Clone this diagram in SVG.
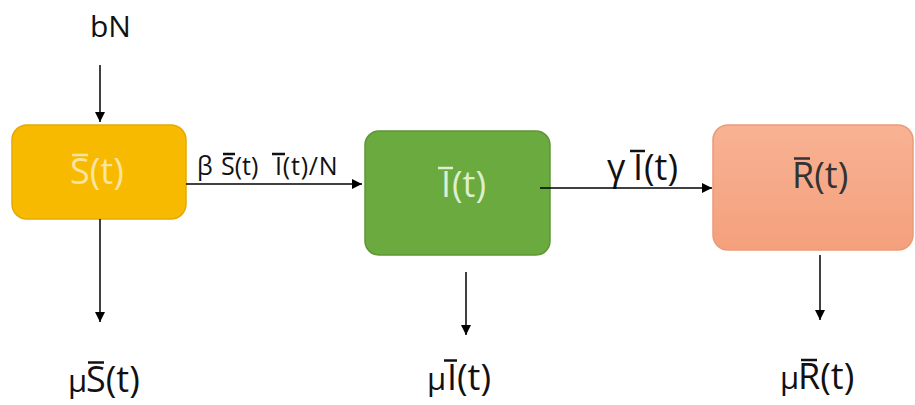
<svg xmlns="http://www.w3.org/2000/svg" width="915" height="405" viewBox="0 0 915 405">
<defs>
<marker id="ah" viewBox="0 0 10 10" refX="10" refY="5" markerWidth="11" markerHeight="10" markerUnits="userSpaceOnUse" orient="auto"><path d="M0,0 L10,5 L0,10 z" fill="#000"/></marker>
<linearGradient id="rg" x1="0" y1="0" x2="0" y2="1"><stop offset="0" stop-color="#F8B293"/><stop offset="1" stop-color="#F4A07C"/></linearGradient>
</defs>
<style>
text{font-family:"Open Sans","DejaVu Sans",sans-serif;}
.edge{stroke:#000;stroke-width:1.5;fill:none;marker-end:url(#ah);}
.lbl{font-size:36px;fill:#111;}
.mu{font-size:31px;}
.ovk{stroke:#111;stroke-width:2.5;}
</style>
<rect width="915" height="405" fill="#fff"/>
<g id="node-S">
<rect x="12" y="125" width="174" height="94" rx="15" fill="#F7BA00" stroke="#E3AA00" stroke-width="1.5"/>
<text x="70" y="184" font-size="36" fill="#FBE3A0">S(t)</text>
<line x1="72" y1="155" x2="88" y2="155" stroke="#FBE3A0" stroke-width="2.5"/>
</g>
<g id="node-I">
<rect x="365" y="131" width="185" height="124" rx="14" fill="#6BAA3E" stroke="#5E9636" stroke-width="1.5"/>
<text x="441" y="197" font-size="36" fill="#DDEFCF">I<tspan x="452">(t)</tspan></text>
<line x1="438" y1="168" x2="453" y2="168" stroke="#DDEFCF" stroke-width="2.5"/>
</g>
<g id="node-R">
<rect x="713" y="125" width="200" height="125" rx="15" fill="url(#rg)" stroke="#EB9A78" stroke-width="1.5"/>
<text x="792" y="188" font-size="36" fill="#333">R(t)</text>
<line x1="794" y1="158.5" x2="810" y2="158.5" stroke="#333" stroke-width="2.5"/>
</g>
<g id="labels">
<text x="90" y="37" font-size="30" fill="#111">bN</text>
<text y="175" font-size="25" fill="#111"><tspan x="197">β</tspan><tspan x="221">S(t)</tspan><tspan x="275" letter-spacing="0.8">I(t)/N</tspan></text>
<line class="ovk" x1="223" y1="154" x2="235" y2="154" stroke-width="2"/>
<line class="ovk" x1="272" y1="154" x2="285" y2="154" stroke-width="2"/>
<text y="180" font-size="36" fill="#111"><tspan x="607">γ</tspan><tspan x="633">I</tspan><tspan x="644">(t)</tspan></text>
<line class="ovk" x1="630" y1="151" x2="645" y2="151"/>
<text y="392" class="lbl"><tspan x="68" class="mu">μ</tspan><tspan x="86">S(t)</tspan></text>
<line class="ovk" x1="88" y1="362.5" x2="104" y2="362.5"/>
<text y="390" class="lbl"><tspan x="427" class="mu">μ</tspan><tspan x="447">I</tspan><tspan x="457">(t)</tspan></text>
<line class="ovk" x1="444" y1="360.5" x2="457" y2="360.5"/>
<text y="389" class="lbl"><tspan x="780" class="mu">μ</tspan><tspan x="798">R(t)</tspan></text>
<line class="ovk" x1="801" y1="360" x2="817" y2="360"/>
</g>
<g id="connectors">
<line class="edge" x1="100" y1="65" x2="100" y2="122"/>
<line class="edge" x1="186" y1="184" x2="362" y2="184"/>
<line class="edge" x1="540" y1="188" x2="712" y2="188"/>
<line class="edge" x1="100" y1="219" x2="100" y2="322"/>
<line class="edge" x1="466" y1="272" x2="466" y2="335"/>
<line class="edge" x1="820" y1="255" x2="820" y2="320"/>
</g>
</svg>
